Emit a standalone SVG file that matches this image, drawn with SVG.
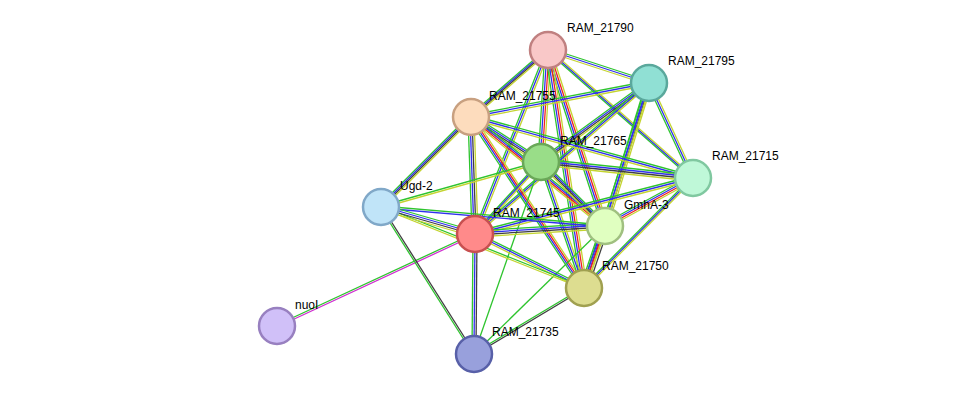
<svg xmlns="http://www.w3.org/2000/svg" xmlns:xlink="http://www.w3.org/1999/xlink" width="975" height="400" viewBox="0 0 975 400">
<style>
.g{stroke:#2ec42e}.b{stroke:#3030ee}.y{stroke:#c4d430}.r{stroke:#ee2020}.k{stroke:#404040}.m{stroke:#d030d0}
use{stroke-width:1.3;fill:none}
.n{stroke-width:2.5}
text{font-family:"Liberation Sans",Arial,sans-serif;font-size:12px;fill:#000}
</style>
<defs>
<path id="e1" d="M548 50L649 83"/><path id="e2" d="M548 50L471 117"/><path id="e3" d="M548 50L541 162"/><path id="e4" d="M548 50L693 178"/><path id="e5" d="M548 50L605 226"/><path id="e6" d="M548 50L584 288"/><path id="e7" d="M548 50L475 234"/>
<path id="e8" d="M649 83L471 117"/><path id="e9" d="M649 83L541 162"/><path id="e10" d="M649 83L693 178"/><path id="e11" d="M649 83L605 226"/><path id="e12" d="M649 83L584 288"/><path id="e13" d="M649 83L475 234"/>
<path id="e14" d="M471 117L541 162"/><path id="e15" d="M471 117L693 178"/><path id="e16" d="M471 117L605 226"/><path id="e17" d="M471 117L584 288"/><path id="e18" d="M471 117L475 234"/><path id="e19" d="M471 117L381 207"/>
<path id="e20" d="M541 162L693 178"/><path id="e21" d="M541 162L605 226"/><path id="e22" d="M541 162L584 288"/><path id="e23" d="M541 162L475 234"/><path id="e24" d="M541 162L381 207"/><path id="e25" d="M541 162L474 354"/>
<path id="e26" d="M693 178L605 226"/><path id="e27" d="M693 178L584 288"/><path id="e28" d="M693 178L475 234"/>
<path id="e29" d="M605 226L584 288"/><path id="e30" d="M605 226L475 234"/><path id="e31" d="M605 226L381 207"/><path id="e32" d="M605 226L474 354"/>
<path id="e33" d="M584 288L475 234"/><path id="e34" d="M584 288L381 207"/><path id="e35" d="M584 288L474 354"/>
<path id="e36" d="M475 234L381 207"/><path id="e37" d="M475 234L474 354"/><path id="e38" d="M475 234L277 326"/><path id="e39" d="M381 207L474 354"/>
</defs>
<g id="edges">
<use href="#e1" class="g" y="-2"/><use href="#e1" class="b"/><use href="#e1" class="y" y="2"/>
<use href="#e2" class="g" x="-3"/><use href="#e2" class="b" x="-1"/><use href="#e2" class="k" x="1"/><use href="#e2" class="y" x="3"/>
<use href="#e3" class="g" x="-3"/><use href="#e3" class="b" x="-1"/><use href="#e3" class="r" x="1"/><use href="#e3" class="y" x="3"/>
<use href="#e4" class="g" x="-2"/><use href="#e4" class="b"/><use href="#e4" class="y" x="2"/>
<use href="#e5" class="g" x="-3"/><use href="#e5" class="b" x="-1"/><use href="#e5" class="r" x="1"/><use href="#e5" class="y" x="3"/>
<use href="#e6" class="g" x="-3"/><use href="#e6" class="b" x="-1"/><use href="#e6" class="r" x="1"/><use href="#e6" class="y" x="3"/>
<use href="#e7" class="g" x="-2"/><use href="#e7" class="b"/><use href="#e7" class="y" x="2"/>
<use href="#e8" class="g" y="-2"/><use href="#e8" class="b"/><use href="#e8" class="y" y="2"/>
<use href="#e9" class="g" y="-3"/><use href="#e9" class="b" y="-1"/><use href="#e9" class="k" y="1"/><use href="#e9" class="y" y="3"/>
<use href="#e10" class="g" x="-2"/><use href="#e10" class="b"/><use href="#e10" class="y" x="2"/>
<use href="#e11" class="g" x="-3"/><use href="#e11" class="b" x="-1"/><use href="#e11" class="k" x="1"/><use href="#e11" class="y" x="3"/>
<use href="#e12" class="g" x="-2"/><use href="#e12" class="b"/><use href="#e12" class="y" x="2"/>
<use href="#e13" class="g" y="-2"/><use href="#e13" class="b"/><use href="#e13" class="y" y="2"/>
<use href="#e14" class="g" y="-3"/><use href="#e14" class="b" y="-1"/><use href="#e14" class="k" y="1"/><use href="#e14" class="y" y="3"/>
<use href="#e15" class="g" y="-2"/><use href="#e15" class="b"/><use href="#e15" class="y" y="2"/>
<use href="#e16" class="g" y="-3"/><use href="#e16" class="b" y="-1"/><use href="#e16" class="r" y="1"/><use href="#e16" class="y" y="3"/>
<use href="#e17" class="g" x="-3"/><use href="#e17" class="b" x="-1"/><use href="#e17" class="r" x="1"/><use href="#e17" class="y" x="3"/>
<use href="#e18" class="g" x="-3"/><use href="#e18" class="b" x="-1"/><use href="#e18" class="k" x="1"/><use href="#e18" class="y" x="3"/>
<use href="#e19" class="g" x="-3"/><use href="#e19" class="b" x="-1"/><use href="#e19" class="k" x="1"/><use href="#e19" class="y" x="3"/>
<use href="#e20" class="g" y="-3"/><use href="#e20" class="b" y="-1"/><use href="#e20" class="k" y="1"/><use href="#e20" class="y" y="3"/>
<use href="#e21" class="g" y="-3"/><use href="#e21" class="b" y="-1"/><use href="#e21" class="k" y="1"/><use href="#e21" class="y" y="3"/>
<use href="#e22" class="g" x="-2"/><use href="#e22" class="b"/><use href="#e22" class="y" x="2"/>
<use href="#e23" class="g" y="-2"/><use href="#e23" class="b"/><use href="#e23" class="y" y="2"/>
<use href="#e24" class="g" y="-1"/><use href="#e24" class="y" y="1"/>
<use href="#e25" class="g"/>
<use href="#e26" class="g" y="-3"/><use href="#e26" class="b" y="-1"/><use href="#e26" class="r" y="1"/><use href="#e26" class="y" y="3"/>
<use href="#e27" class="g" x="-2"/><use href="#e27" class="b"/><use href="#e27" class="y" x="2"/>
<use href="#e28" class="g" y="-2"/><use href="#e28" class="b"/><use href="#e28" class="y" y="2"/>
<use href="#e29" class="g" x="-4"/><use href="#e29" class="b" x="-2"/><use href="#e29" class="r"/><use href="#e29" class="y" x="2"/><use href="#e29" class="k" x="4"/>
<use href="#e30" class="g" y="-3"/><use href="#e30" class="b" y="-1"/><use href="#e30" class="k" y="1"/><use href="#e30" class="y" y="3"/>
<use href="#e31" class="g" y="-1"/><use href="#e31" class="b" y="1"/>
<use href="#e32" class="g"/>
<use href="#e33" class="g" y="-2"/><use href="#e33" class="b"/><use href="#e33" class="y" y="2"/>
<use href="#e34" class="g" y="-1"/><use href="#e34" class="y" y="1"/>
<use href="#e35" class="g" y="-1"/><use href="#e35" class="k" y="1"/>
<use href="#e36" class="g" y="-3"/><use href="#e36" class="b" y="-1"/><use href="#e36" class="k" y="1"/><use href="#e36" class="y" y="3"/>
<use href="#e37" class="g" x="-2"/><use href="#e37" class="b"/><use href="#e37" class="k" x="2"/>
<use href="#e38" class="g" y="-1"/><use href="#e38" class="m" y="1"/>
<use href="#e39" class="g" x="-1"/><use href="#e39" class="k" x="1"/>
</g>
<g id="RAM_21790"><circle class="n" cx="548" cy="50" r="18" fill="#f9c8c8" stroke="#c08080"/><text x="567" y="32">RAM_21790</text></g>
<g id="RAM_21795"><circle class="n" cx="649" cy="83" r="18" fill="#90e0d4" stroke="#5aa89c"/><text x="668" y="65">RAM_21795</text></g>
<g id="RAM_21755"><circle class="n" cx="471" cy="117" r="18" fill="#fddcbd" stroke="#c8a080"/><text x="489" y="100">RAM_21755</text></g>
<g id="RAM_21765"><circle class="n" cx="541" cy="162" r="18" fill="#99dd88" stroke="#6aa858"/><text x="560" y="145">RAM_21765</text></g>
<g id="RAM_21715"><circle class="n" cx="693" cy="178" r="18" fill="#bff8d8" stroke="#80c8a0"/><text x="712" y="160">RAM_21715</text></g>
<g id="Ugd-2"><circle class="n" cx="381" cy="207" r="18" fill="#c0e4f8" stroke="#80a8c8"/><text x="400" y="190">Ugd-2</text></g>
<g id="GmhA-3"><circle class="n" cx="605" cy="226" r="18" fill="#e0ffc0" stroke="#a0c080"/><text x="624" y="209">GmhA-3</text></g>
<g id="RAM_21745"><circle class="n" cx="475" cy="234" r="18" fill="#ff8a8a" stroke="#c85050"/><text x="493" y="217">RAM_21745</text></g>
<g id="RAM_21750"><circle class="n" cx="584" cy="288" r="18" fill="#dddd90" stroke="#a0a050"/><text x="602" y="270">RAM_21750</text></g>
<g id="nuoI"><circle class="n" cx="277" cy="326" r="18" fill="#d0c0f8" stroke="#9880c0"/><text x="295" y="309">nuoI</text></g>
<g id="RAM_21735"><circle class="n" cx="474" cy="354" r="18" fill="#98a0dc" stroke="#5860a8"/><text x="492" y="336">RAM_21735</text></g>
</svg>
